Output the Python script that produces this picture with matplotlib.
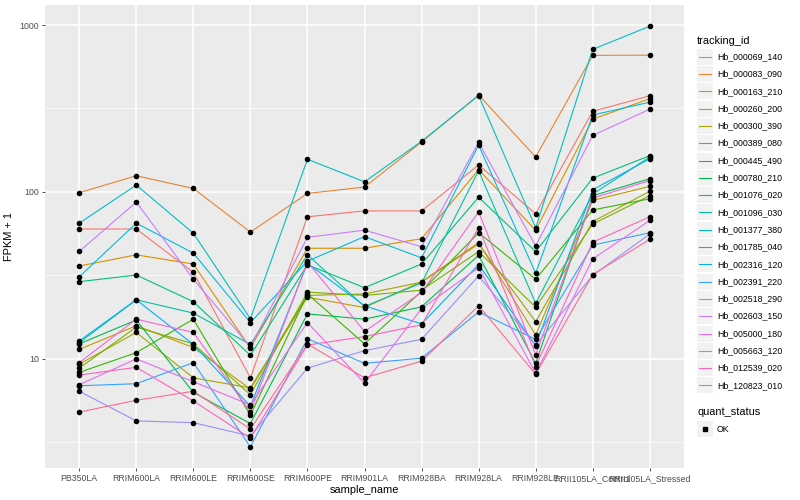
import matplotlib
matplotlib.use("Agg")
import matplotlib.pyplot as plt
from matplotlib.lines import Line2D
from matplotlib.patches import Rectangle

plt.rcParams["font.family"] = ["Liberation Sans", "DejaVu Sans"]

samples = ["PB350LA", "RRIM600LA", "RRIM600LE", "RRIM600SE", "RRIM600PE",
           "RRIM901LA", "RRIM928BA", "RRIM928LA", "RRIM928LE",
           "RRII105LA_Control", "RRII105LA_Stressed"]

tracking_ids = ["Hb_000069_140", "Hb_000083_090", "Hb_000163_210", "Hb_000260_200",
                "Hb_000300_390", "Hb_000389_080", "Hb_000445_490", "Hb_000780_210",
                "Hb_001076_020", "Hb_001096_030", "Hb_001377_380", "Hb_001785_040",
                "Hb_002316_120", "Hb_002391_220", "Hb_002518_290", "Hb_002603_150",
                "Hb_005000_180", "Hb_005663_120", "Hb_012539_020", "Hb_120823_010"]

colors = ["#F8766D", "#EA8331", "#D89000", "#C09B00", "#A3A500", "#7CAE00",
          "#39B600", "#00BB4E", "#00BF7D", "#00C1A3", "#00BFC4", "#00BAE0",
          "#00B0F6", "#35A2FF", "#9590FF", "#C77CFF", "#E76BF3", "#FA62DB",
          "#FF62BC", "#FF6C91"]

# FPKM + 1, one list per tracking_id, in sample order
hb_000069_140 = [60, 60, 33, 7.7, 71, 77, 77, 145, 74, 304, 377]
hb_000083_090 = [99, 125, 105, 57.5, 98, 107, 199, 381, 162, 658, 660]
hb_000163_210 = [36, 42, 37, 11.6, 46, 46, 52.5, 136, 59, 273, 362]
hb_000260_200 = [11.4, 15.8, 11.7, 6.6, 23.4, 20.3, 29, 49.7, 13.9, 89, 108]
hb_000300_390 = [9.3, 14.4, 7.7, 6.7, 24, 24.5, 28.8, 48.8, 16.7, 66.4, 101]
hb_000389_080 = [8.8, 15.5, 12.3, 6.1, 25.1, 24, 25.8, 43.9, 20.4, 64.2, 95]
hb_000445_490 = [8.3, 10.9, 17.3, 4.6, 24.5, 12.3, 25.4, 57, 30, 78, 91]
hb_000780_210 = [12.3, 17.1, 6.3, 4.1, 18.6, 17.3, 20.5, 41.7, 9.4, 95, 120]
hb_001076_020 = [29, 31.8, 22, 10.5, 36.6, 26.7, 37, 93, 43.9, 121, 165]
hb_001096_030 = [12.5, 22.6, 18.8, 12.2, 42, 20.6, 28.5, 134, 21.5, 97, 162]
hb_001377_380 = [65, 110, 56.6, 17.4, 157, 115, 201, 378, 61, 715, 983]
hb_001785_040 = [31, 65, 43, 16.5, 38.5, 54, 40.3, 191, 32.6, 289, 345]
hb_002316_120 = [12.8, 22.6, 12.2, 5.2, 37.4, 20.8, 16.2, 36.7, 12, 103, 158]
hb_002391_220 = [6.9, 7.1, 9.5, 2.97, 13.2, 9.4, 10.1, 19.1, 13.1, 48, 57]
hb_002518_290 = [6.4, 4.25, 4.15, 3.45, 8.8, 11.2, 13.1, 31.4, 12.1, 31.6, 56]
hb_002603_150 = [44, 87, 30, 11.8, 53.5, 59, 47, 198, 47.5, 218, 313]
hb_005000_180 = [7.0, 10, 7.3, 5.3, 16.5, 7.15, 20, 35.2, 8.2, 39.7, 67.5]
hb_005663_120 = [9.5, 17.3, 14.4, 4.8, 38, 14.6, 25, 76, 10.6, 92, 117]
hb_012539_020 = [8.0, 8.9, 5.6, 3.35, 12.1, 13.6, 16, 61, 9.0, 50, 71]
hb_120823_010 = [4.8, 5.65, 6.4, 3.8, 12.3, 7.7, 9.7, 20.8, 8.1, 32, 52]

series = [hb_000069_140, hb_000083_090, hb_000163_210, hb_000260_200,
          hb_000300_390, hb_000389_080, hb_000445_490, hb_000780_210,
          hb_001076_020, hb_001096_030, hb_001377_380, hb_001785_040,
          hb_002316_120, hb_002391_220, hb_002518_290, hb_002603_150,
          hb_005000_180, hb_005663_120, hb_012539_020, hb_120823_010]

W, H = 800, 500
fig = plt.figure(figsize=(8, 5), dpi=100)
ax = fig.add_axes([45 / W, 1 - 468 / H, (684 - 45) / W, (468 - 5) / H])
ax.set_facecolor("#EBEBEB")

x = list(range(len(samples)))
for vals, col in zip(series, colors):
    ax.plot(x, vals, color=col, lw=0.8, zorder=3)
for vals in series:
    ax.plot(x, vals, ls="none", marker="o", ms=3.0, color="black", zorder=4)

ax.set_yscale("log")
ax.set_ylim(2.22, 1318)
ax.set_xlim(-0.6, len(samples) - 0.4)
ax.set_yticks([10, 100, 1000])
ax.set_yticklabels(["10", "100", "1000"])
ax.set_yticks([10 ** 0.5, 10 ** 1.5, 10 ** 2.5], minor=True)
ax.yaxis.set_minor_formatter(plt.NullFormatter())
ax.set_xticks(x)
ax.set_xticklabels(samples)

ax.grid(True, which="major", color="white", lw=1.1, zorder=0)
ax.grid(True, which="minor", axis="y", color="white", lw=0.5, zorder=0)
ax.set_axisbelow(True)
for s in ax.spines.values():
    s.set_visible(False)
ax.tick_params(axis="both", which="major", colors="#333333", labelcolor="#4D4D4D",
               labelsize=6.3, length=2.5, width=0.6, pad=2)
ax.tick_params(axis="y", which="minor", length=0)

ax.set_xlabel("sample_name", fontsize=7.9, labelpad=1)
ax.set_ylabel("FPKM + 1", fontsize=7.9, labelpad=4)

# legend, ggplot style
def fx(px):
    return px / W

def fy(py):
    return 1 - py / H

fig.text(fx(697), fy(40.7), "tracking_id", fontsize=7.9, va="center", ha="left")
for i, (name, col) in enumerate(zip(tracking_ids, colors)):
    cy = 56.7 + i * 17.3
    fig.add_artist(Rectangle((fx(697), fy(cy + 8)), 16 / W, 16 / H,
                             transform=fig.transFigure, facecolor="#F2F2F2",
                             edgecolor="none"))
    fig.add_artist(Line2D([fx(699), fx(711)], [fy(cy), fy(cy)],
                          transform=fig.transFigure, color=col, lw=0.8))
    fig.text(fx(717), fy(cy), name, fontsize=6.3, va="center", ha="left")

fig.text(fx(697), fy(411.7), "quant_status", fontsize=7.9, va="center", ha="left")
fig.add_artist(Rectangle((fx(697), fy(429.3 + 8)), 16 / W, 16 / H,
                         transform=fig.transFigure, facecolor="#F2F2F2",
                         edgecolor="none"))
fig.add_artist(Line2D([fx(705)], [fy(429.3)], transform=fig.transFigure,
                      ls="none", marker="s", ms=2.2, color="black"))
fig.text(fx(717), fy(429.3), "OK", fontsize=6.3, va="center", ha="left")

fig.savefig("out.png", dpi=100)
